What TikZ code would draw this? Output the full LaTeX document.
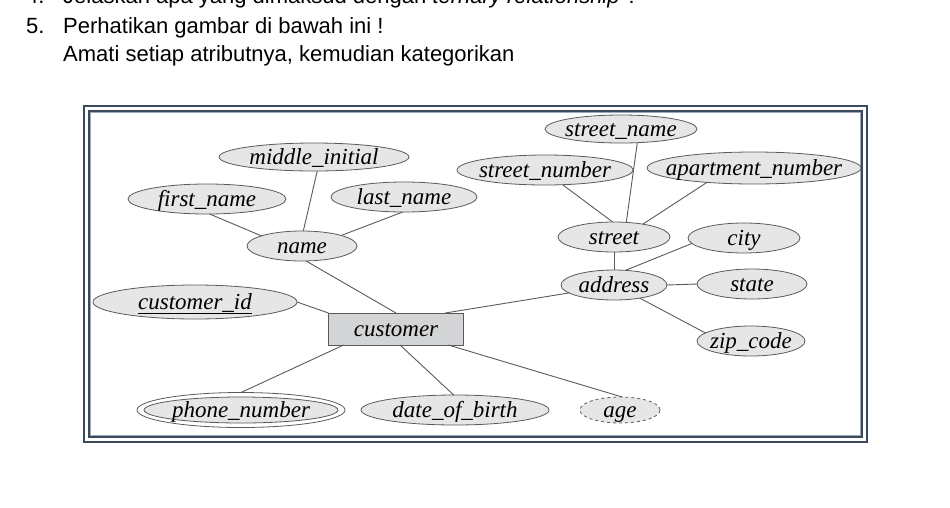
\documentclass[tikz,border=0pt]{standalone}
\usepackage{fontspec}
\setmainfont{Liberation Sans}
\newfontfamily\erfont{Liberation Serif}
\usetikzlibrary{shapes.geometric}
\definecolor{framec}{HTML}{3C4A5E}
\definecolor{frameli}{HTML}{9AA8BA}
\definecolor{linec}{HTML}{5A5A5A}
\definecolor{ellfill}{HTML}{E6E6E6}
\definecolor{rectfill}{HTML}{D2D4D6}
\tikzset{
  x=1pt, y=-1pt,
  qtext/.style={anchor=base west, inner sep=0pt, font=\fontsize{22}{26}\selectfont},
  erfontst/.style={font=\erfont\itshape\fontsize{23}{27}\selectfont},
  attr/.style={ellipse, draw=linec, fill=ellfill, line width=0.8pt, inner sep=0pt, outer sep=0pt,
    text height=0pt, text depth=0pt, erfontst},
  entity/.style={rectangle, draw=linec, fill=rectfill, line width=0.8pt, inner sep=0pt, outer sep=0pt,
    text height=0pt, text depth=0pt, erfontst},
  conn/.style={draw=linec, line width=0.9pt},
  framest/.style={draw=framec, line width=2pt},
}
\newcommand{\lbl}[1]{\makebox[0pt]{\raisebox{-7pt}[0pt][0pt]{#1}}}
\begin{document}
\begin{tikzpicture}
\useasboundingbox (0,0) rectangle (950,507);
\clip (0,0) rectangle (950,507);
% question text
\node[qtext] (q4n) at (26,3.5) {4.};
\node[qtext] (q4) at (63,3.5) {Jelaskan apa yang dimaksud dengan \textit{ternary relationship} ?};
\node[qtext] (q5n) at (26,33.5) {5.};
\node[qtext] (q5) at (63,33.5) {Perhatikan gambar di bawah ini !};
\node[qtext] (q5b) at (63,61.5) {Amati setiap atributnya, kemudian kategorikan};
% frame
\draw[framest] (84,106) rectangle (867,442);
\draw[framest] (89,111) rectangle (862,437);
\draw[frameli, line width=0.8pt] (90.8,112.8) rectangle (860.2,435.2);
% attributes
\node[attr, minimum width=152, minimum height=28] (stname) at (621,129) {\lbl{street\_name}};
\node[attr, minimum width=190, minimum height=28] (midinit) at (314,157) {\lbl{middle\_initial}};
\node[attr, minimum width=176, minimum height=30] (stnum) at (545,170) {\lbl{street\_number}};
\node[attr, minimum width=214, minimum height=32] (aptnum) at (754,168) {\lbl{apartment\_number}};
\node[attr, minimum width=158, minimum height=30] (fname) at (207,199) {\lbl{first\_name}};
\node[attr, minimum width=146, minimum height=30] (lname) at (404,197) {\lbl{last\_name}};
\node[attr, minimum width=110, minimum height=30] (name) at (302,246) {\lbl{name}};
\node[attr, minimum width=112, minimum height=30] (street) at (614,237) {\lbl{street}};
\node[attr, minimum width=112, minimum height=30] (city) at (744,238) {\lbl{city}};
\node[attr, minimum width=106, minimum height=30] (address) at (614,285) {\lbl{address}};
\node[attr, minimum width=110, minimum height=30] (state) at (752,284) {\lbl{state}};
\node[attr, minimum width=204, minimum height=34] (custid) at (195,302) {\lbl{\underline{customer\_id}}};
\node[entity, minimum width=135, minimum height=32] (customer) at (396,329) {\lbl{customer}};
\node[attr, minimum width=108, minimum height=30] (zip) at (751,341) {\lbl{zip\_code}};
\node[attr, fill=white, minimum width=208, minimum height=35,
  path picture={\draw[draw=linec, fill=ellfill, line width=0.8pt] (path picture bounding box.center) ellipse [x radius=97pt, y radius=13pt];}]
  (phone) at (241,410) {\lbl{phone\_number}};
\node[attr, minimum width=188, minimum height=30] (dob) at (455,410) {\lbl{date\_of\_birth}};
\node[attr, dashed, minimum width=80, minimum height=26] (age) at (620,410) {\lbl{age}};
% connectors
\draw[conn] (fname.-80) -- (name.166);
\draw[conn] (midinit.-77) -- (name.85);
\draw[conn] (lname.-95) -- (name.15);
\draw[conn] (name.-75) -- (customer.north);
\draw[conn] (custid.east) -- (customer.north west);
\draw[conn] (address.-170) -- (customer.18);
\draw[conn] (customer.-163) -- (phone.north);
\draw[conn] (customer.-76) -- (dob.95);
\draw[conn] (customer.-17) -- (age.80);
\draw[conn] (stnum.-40) -- (street.95);
\draw[conn] (stname.-40) -- (street.50);
\draw[conn] (aptnum.-163) -- (street.24);
\draw[conn] (street.south) -- (address.north);
\draw[conn] (city.-174) -- (address.52);
\draw[conn] (address.east) -- (state.west);
\draw[conn] (address.-27) -- (zip.170);
\end{tikzpicture}
\end{document}
